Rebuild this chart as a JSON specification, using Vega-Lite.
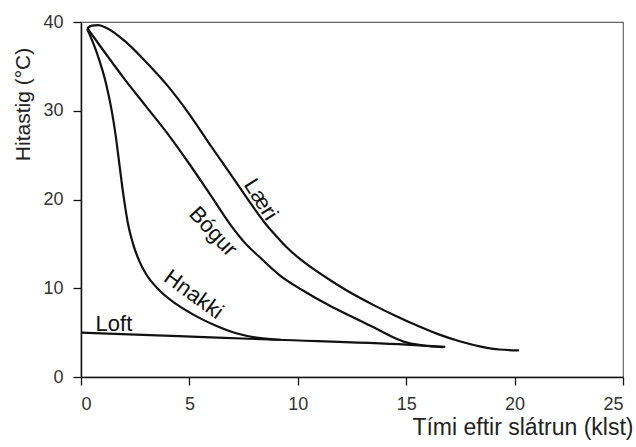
{
  "$schema": "https://vega.github.io/schema/vega-lite/v6.json",
  "width": 542,
  "height": 355,
  "autosize": "none",
  "padding": {"left": 81, "top": 22, "right": 13, "bottom": 70},
  "background": "white",
  "config": {
    "font": "Liberation Sans",
    "view": {"stroke": "#666666", "strokeWidth": 1.2}
  },
  "datasets": {
    "curves": [
      {"series": "Læri", "t": 0.29, "temp": 39.3},
      {"series": "Læri", "t": 0.5, "temp": 39.6},
      {"series": "Læri", "t": 0.8, "temp": 39.65},
      {"series": "Læri", "t": 1.2, "temp": 39.3},
      {"series": "Læri", "t": 2.0, "temp": 37.9},
      {"series": "Læri", "t": 3.0, "temp": 35.5},
      {"series": "Læri", "t": 4.0, "temp": 32.8},
      {"series": "Læri", "t": 5.0, "temp": 29.6},
      {"series": "Læri", "t": 6.0, "temp": 26.0},
      {"series": "Læri", "t": 7.0, "temp": 22.5},
      {"series": "Læri", "t": 7.9, "temp": 19.3},
      {"series": "Læri", "t": 8.5, "temp": 17.3},
      {"series": "Læri", "t": 9.0, "temp": 15.9},
      {"series": "Læri", "t": 9.5, "temp": 14.6},
      {"series": "Læri", "t": 10.0, "temp": 13.5},
      {"series": "Læri", "t": 10.7, "temp": 12.2},
      {"series": "Læri", "t": 11.5, "temp": 10.9},
      {"series": "Læri", "t": 12.5, "temp": 9.4},
      {"series": "Læri", "t": 13.5, "temp": 8.1},
      {"series": "Læri", "t": 14.5, "temp": 6.9},
      {"series": "Læri", "t": 15.5, "temp": 5.8},
      {"series": "Læri", "t": 16.5, "temp": 4.8},
      {"series": "Læri", "t": 17.5, "temp": 4.0},
      {"series": "Læri", "t": 18.5, "temp": 3.4},
      {"series": "Læri", "t": 19.3, "temp": 3.1},
      {"series": "Læri", "t": 20.2, "temp": 3.0},
      {"series": "Bógur", "t": 0.29, "temp": 39.3},
      {"series": "Bógur", "t": 1.0, "temp": 36.9},
      {"series": "Bógur", "t": 2.0, "temp": 33.6},
      {"series": "Bógur", "t": 3.0, "temp": 30.5},
      {"series": "Bógur", "t": 4.0, "temp": 27.4},
      {"series": "Bógur", "t": 5.0, "temp": 24.0},
      {"series": "Bógur", "t": 6.0, "temp": 20.4},
      {"series": "Bógur", "t": 7.0, "temp": 16.8},
      {"series": "Bógur", "t": 7.6, "temp": 15.0},
      {"series": "Bógur", "t": 8.2, "temp": 13.6},
      {"series": "Bógur", "t": 9.2, "temp": 11.4},
      {"series": "Bógur", "t": 10.2, "temp": 9.8},
      {"series": "Bógur", "t": 11.5, "temp": 8.0},
      {"series": "Bógur", "t": 12.5, "temp": 6.8},
      {"series": "Bógur", "t": 13.5, "temp": 5.6},
      {"series": "Bógur", "t": 14.3, "temp": 4.6},
      {"series": "Bógur", "t": 15.0, "temp": 3.9},
      {"series": "Bógur", "t": 15.8, "temp": 3.55},
      {"series": "Bógur", "t": 16.7, "temp": 3.35},
      {"series": "Hnakki", "t": 0.29, "temp": 39.2},
      {"series": "Hnakki", "t": 0.72, "temp": 36.6},
      {"series": "Hnakki", "t": 1.18, "temp": 32.8},
      {"series": "Hnakki", "t": 1.41, "temp": 30.1},
      {"series": "Hnakki", "t": 1.6, "temp": 27.2},
      {"series": "Hnakki", "t": 1.78, "temp": 23.8},
      {"series": "Hnakki", "t": 1.95, "temp": 20.6},
      {"series": "Hnakki", "t": 2.15, "temp": 17.5},
      {"series": "Hnakki", "t": 2.4, "temp": 15.0},
      {"series": "Hnakki", "t": 2.7, "temp": 13.0},
      {"series": "Hnakki", "t": 3.0, "temp": 11.6},
      {"series": "Hnakki", "t": 3.6, "temp": 9.8},
      {"series": "Hnakki", "t": 4.4, "temp": 8.2},
      {"series": "Hnakki", "t": 5.2, "temp": 7.0},
      {"series": "Hnakki", "t": 6.2, "temp": 5.8},
      {"series": "Hnakki", "t": 7.2, "temp": 4.9},
      {"series": "Hnakki", "t": 8.2, "temp": 4.4},
      {"series": "Hnakki", "t": 9.2, "temp": 4.2},
      {"series": "Loft", "t": 0.0, "temp": 5.0},
      {"series": "Loft", "t": 4.5, "temp": 4.6},
      {"series": "Loft", "t": 9.0, "temp": 4.2},
      {"series": "Loft", "t": 15.0, "temp": 3.65},
      {"series": "Loft", "t": 16.8, "temp": 3.4}
    ],
    "labels": [
      {"label": "Læri", "t": 8.3, "temp": 20.0},
      {"label": "Bógur", "t": 6.1, "temp": 16.4},
      {"label": "Hnakki", "t": 5.2, "temp": 9.3},
      {"label": "Loft", "t": 1.52, "temp": 6.0}
    ]
  },
  "layer": [
    {
      "data": {"name": "curves"},
      "mark": {"type": "line", "interpolate": "monotone", "stroke": "#111111", "strokeWidth": 2.2},
      "encoding": {
        "x": {
          "field": "t", "type": "quantitative",
          "scale": {"domain": [0, 25], "nice": false},
          "axis": {
            "values": [0, 5, 10, 15, 20, 25],
            "grid": false,
            "domainColor": "#111111", "domainWidth": 1.5,
            "tickColor": "#111111", "tickWidth": 1.3, "tickSize": 8,
            "labelFontSize": 18, "labelColor": "#333333", "labelPadding": 10,
            "title": "Tími eftir slátrun (klst)",
            "titleFontSize": 23, "titleFontWeight": "normal", "titleColor": "#222222",
            "titleAnchor": "end", "titleAlign": "right", "titleX": 552, "titleY": 57, "titleBaseline": "alphabetic"
          }
        },
        "y": {
          "field": "temp", "type": "quantitative",
          "scale": {"domain": [0, 40], "nice": false},
          "axis": {
            "values": [0, 10, 20, 30, 40],
            "grid": false,
            "domainColor": "#111111", "domainWidth": 1.5,
            "tickColor": "#111111", "tickWidth": 1.3, "tickSize": 8,
            "labelFontSize": 18, "labelColor": "#333333", "labelPadding": 10,
            "title": "Hitastig (°C)",
            "titleFontSize": 21, "titleFontWeight": "normal", "titleColor": "#222222",
            "titleAngle": -90, "titleX": -58, "titleY": 82, "titleAlign": "center", "titleBaseline": "middle"
          }
        },
        "detail": {"field": "series", "type": "nominal"}
      }
    },
    {
      "data": {"name": "labels"},
      "transform": [{"filter": "datum.label === 'Læri'"}],
      "mark": {"type": "text", "angle": 58, "fontSize": 22, "color": "#111111", "align": "center", "baseline": "middle"},
      "encoding": {
        "x": {"field": "t", "type": "quantitative"},
        "y": {"field": "temp", "type": "quantitative"},
        "text": {"field": "label"}
      }
    },
    {
      "data": {"name": "labels"},
      "transform": [{"filter": "datum.label === 'Bógur'"}],
      "mark": {"type": "text", "angle": 47, "fontSize": 22, "color": "#111111", "align": "center", "baseline": "middle"},
      "encoding": {
        "x": {"field": "t", "type": "quantitative"},
        "y": {"field": "temp", "type": "quantitative"},
        "text": {"field": "label"}
      }
    },
    {
      "data": {"name": "labels"},
      "transform": [{"filter": "datum.label === 'Hnakki'"}],
      "mark": {"type": "text", "angle": 36, "fontSize": 22, "color": "#111111", "align": "center", "baseline": "middle"},
      "encoding": {
        "x": {"field": "t", "type": "quantitative"},
        "y": {"field": "temp", "type": "quantitative"},
        "text": {"field": "label"}
      }
    },
    {
      "data": {"name": "labels"},
      "transform": [{"filter": "datum.label === 'Loft'"}],
      "mark": {"type": "text", "angle": 0, "fontSize": 22, "color": "#111111", "align": "center", "baseline": "middle"},
      "encoding": {
        "x": {"field": "t", "type": "quantitative"},
        "y": {"field": "temp", "type": "quantitative"},
        "text": {"field": "label"}
      }
    }
  ]
}
